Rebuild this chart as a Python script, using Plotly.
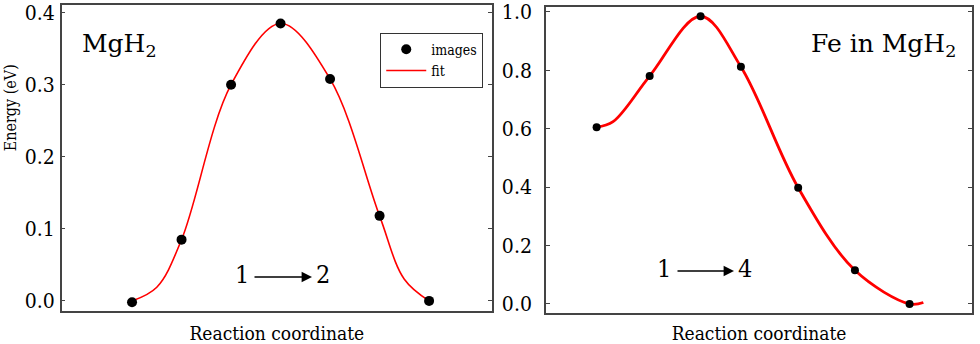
import plotly.graph_objects as go

# left panel: MgH2, images along reaction coordinate
x_img_l = [0, 1, 2, 3, 4, 5, 6]
y_img_l = [-0.002, 0.085, 0.300, 0.385, 0.308, 0.118, 0.0]
# fit curve
x_fit_l = [0, 0.5, 1, 2, 3, 4, 5, 5.5, 6]
y_fit_l = [0.0, 0.019, 0.085, 0.300, 0.385, 0.308, 0.118, 0.03, 0.0]

# right panel: Fe in MgH2
x_img_r = [0, 1.0, 1.96, 2.72, 3.8, 4.87, 5.9]
y_img_r = [0.605, 0.78, 0.985, 0.812, 0.398, 0.115, 0.0]
x_fit_r = [0, 0.31, 1.0, 1.96, 2.72, 3.8, 4.87, 5.9, 6.16]
y_fit_r = [0.605, 0.624, 0.78, 0.985, 0.812, 0.398, 0.115, 0.0, 0.005]

yticks_l = [0.0, 0.1, 0.2, 0.3, 0.4]
yticks_r = [0.0, 0.2, 0.4, 0.6, 0.8, 1.0]

SERIF = "DejaVu Serif Condensed, DejaVu Serif, serif"
SERIF_WIDE = "DejaVu Serif, serif"
FRAME = "#444444"

fig = go.Figure()
fig.add_trace(go.Scatter(x=x_fit_l, y=y_fit_l, mode="lines", name="fit",
                         line=dict(color="red", width=1.6, shape="spline"),
                         xaxis="x", yaxis="y"))
fig.add_trace(go.Scatter(x=x_img_l, y=y_img_l, mode="markers", name="images",
                         marker=dict(color="black", size=10),
                         xaxis="x", yaxis="y"))
fig.add_trace(go.Scatter(x=x_fit_r, y=y_fit_r, mode="lines", showlegend=False,
                         line=dict(color="red", width=2.8, shape="spline"),
                         xaxis="x2", yaxis="y2"))
fig.add_trace(go.Scatter(x=x_img_r, y=y_img_r, mode="markers", showlegend=False,
                         marker=dict(color="black", size=8),
                         xaxis="x2", yaxis="y2"))

common_x = dict(showticklabels=False, ticks="", showgrid=False, zeroline=False,
                showline=True, mirror=True, linecolor=FRAME, linewidth=1.5,
                automargin=False,
                title=dict(text="Reaction coordinate", standoff=15,
                           font=dict(family=SERIF, size=19, color="black")))
common_y = dict(showgrid=False, zeroline=False, showline=True, mirror="allticks",
                linecolor=FRAME, linewidth=1.5, ticks="inside", ticklen=4,
                tickcolor=FRAME, tickformat=".1f", automargin=False,
                tickfont=dict(family=SERIF, size=21, color="black"))

fig.update_layout(
    width=980, height=344,
    margin=dict(l=0, r=0, t=0, b=0),
    paper_bgcolor="white", plot_bgcolor="white",
    xaxis=dict(domain=[0.063, 0.502], range=[-1.42, 7.27], **common_x),
    yaxis=dict(domain=[0.096, 0.9855], range=[-0.014, 0.4106], tickvals=yticks_l,
               ticklabelstandoff=1, **common_y),
    xaxis2=dict(domain=[0.557, 0.992], range=[-0.957, 7.08], anchor="y2", **common_x),
    yaxis2=dict(domain=[0.091, 0.98], range=[-0.03, 1.017], tickvals=yticks_r,
                anchor="x2", ticklabelstandoff=8, **common_y),
    legend=dict(x=0.388, y=0.905, xanchor="left", yanchor="top",
                bgcolor="white", bordercolor="#333333", borderwidth=1,
                font=dict(family=SERIF, size=14, color="black"),
                traceorder="reversed", itemwidth=40, tracegroupgap=0),
    showlegend=True,
)

# y axis title of the left panel
fig.add_annotation(text="Energy (eV)", x=10 / 980, y=0.685, xref="paper", yref="paper",
                   xanchor="center", yanchor="middle", textangle=-90, showarrow=False,
                   font=dict(family=SERIF, size=16, color="black"))

# panel labels
fig.add_annotation(text="MgH<sub>2</sub>", x=0.082, y=0.87, xref="paper", yref="paper",
                   xanchor="left", yanchor="middle", showarrow=False,
                   font=dict(family=SERIF_WIDE, size=25, color="black"))
fig.add_annotation(text="Fe in MgH<sub>2</sub>", x=0.978, y=0.87, xref="paper", yref="paper",
                   xanchor="right", yanchor="middle", showarrow=False,
                   font=dict(family=SERIF_WIDE, size=25, color="black"))

# transition arrows: (start label, end label, label x, arrow start, arrow end, label x, y)
for a, b, xa, x1, xe, xb, yy in [("1", "2", 242, 253, 312, 323, 277),
                                 ("1", "4", 664, 676, 734, 745, 271)]:
    ypap = 1 - yy / 344
    for txt, xx in [(a, xa), (b, xb)]:
        fig.add_annotation(text=txt, x=xx / 980, y=ypap + 0.008, xref="paper", yref="paper",
                           xanchor="center", yanchor="middle", showarrow=False,
                           font=dict(family=SERIF, size=25, color="black"))
    fig.add_annotation(x=xe / 980, y=ypap, ax=-(xe - x1), ay=0, xref="paper", yref="paper",
                       axref="pixel", ayref="pixel", text="", showarrow=True,
                       arrowhead=2, arrowsize=1.3, arrowwidth=1.6, arrowcolor="black")

fig.write_html("out.html", config={"displayModeBar": False},
               post_script="document.body.style.margin='0';")
